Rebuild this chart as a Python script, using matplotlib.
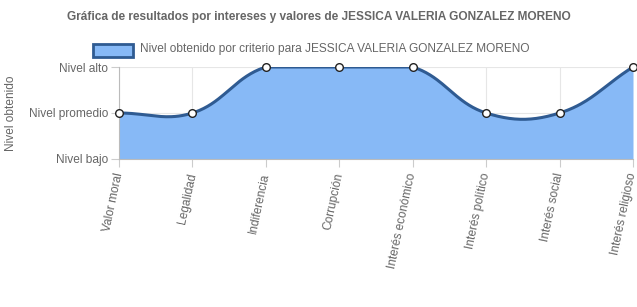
import matplotlib
matplotlib.use("Agg")
import matplotlib.pyplot as plt
import numpy as np

plt.rcParams["font.family"] = ["Liberation Sans", "DejaVu Sans"]

categorias = ["Valor moral", "Legalidad", "Indiferencia", "Corrupción",
              "Interés económico", "Interés político", "Interés social",
              "Interés religioso"]
niveles = [2, 2, 3, 3, 3, 2, 2, 3]
nivel_labels = ["Nivel bajo", "Nivel promedio", "Nivel alto"]
titulo = "Gráfica de resultados por intereses y valores de JESSICA VALERIA GONZALEZ MORENO"
serie = "Nivel obtenido por criterio para JESSICA VALERIA GONZALEZ MORENO"

gris = "#666666"
relleno = "#87b9f6"
borde = "#2f5b92"
fs = 8.6

W, H = 637, 307
fig = plt.figure(figsize=(W / 100, H / 100), dpi=100)
x0, x1, y0, y1 = 119, 633, 67, 159
ax = fig.add_axes([x0 / W, 1 - y1 / H, (x1 - x0) / W, (y1 - y0) / H])

xs = np.arange(len(categorias), dtype=float)
ys = np.array(niveles, dtype=float)

# chart.js style spline (tension 0.4), distances in pixel space
sx = (x1 - x0) / (len(categorias) - 1)
sy = (y1 - y0) / 2.0
px, py = xs * sx, ys * sy
n = len(px)
cp_prev = np.zeros((n, 2))
cp_next = np.zeros((n, 2))
t = 0.4
for i in range(n):
    a = (px[max(i - 1, 0)], py[max(i - 1, 0)])
    b = (px[i], py[i])
    c = (px[min(i + 1, n - 1)], py[min(i + 1, n - 1)])
    d01 = np.hypot(b[0] - a[0], b[1] - a[1])
    d12 = np.hypot(c[0] - b[0], c[1] - b[1])
    tot = d01 + d12
    s01 = d01 / tot if tot else 0
    s12 = d12 / tot if tot else 0
    fa, fb = t * s01, t * s12
    cp_prev[i] = (b[0] - fa * (c[0] - a[0]), b[1] - fa * (c[1] - a[1]))
    cp_next[i] = (b[0] + fb * (c[0] - a[0]), b[1] + fb * (c[1] - a[1]))

cx, cy = [], []
u = np.linspace(0, 1, 40)
for i in range(n - 1):
    P0 = np.array([px[i], py[i]])
    P1 = cp_next[i]
    P2 = cp_prev[i + 1]
    P3 = np.array([px[i + 1], py[i + 1]])
    pts = ((1 - u) ** 3)[:, None] * P0 + (3 * (1 - u) ** 2 * u)[:, None] * P1 \
        + (3 * (1 - u) * u ** 2)[:, None] * P2 + (u ** 3)[:, None] * P3
    cx.extend(pts[:, 0] / sx)
    cy.extend(np.minimum(pts[:, 1] / sy, 3.0))
cx, cy = np.array(cx), np.array(cy)

ax.fill_between(cx, 1, cy, color=relleno, lw=0, zorder=2)
ax.plot(cx, cy, color=borde, lw=2.2, zorder=3, solid_capstyle="round")
ax.plot(xs, ys, "o", ms=5.5, mfc="white", mec="#222222", mew=1, zorder=4,
        clip_on=False)

ax.set_xlim(0, len(categorias) - 1)
ax.set_ylim(1, 3)
ax.set_yticks([1, 2, 3])
ax.set_yticklabels(nivel_labels)
ax.set_xticks(xs)
ax.set_xticklabels(categorias, rotation=78, ha="right", va="center",
                   rotation_mode="anchor")
ax.tick_params(axis="both", colors="#cccccc", labelcolor=gris, labelsize=fs,
               length=6, width=0.8, pad=2)
ax.tick_params(axis="x", pad=4)
ax.grid(True, color="#e6e6e6", lw=0.8, zorder=1)
ax.set_axisbelow(True)
for s in ["top", "right"]:
    ax.spines[s].set_visible(False)
ax.spines["left"].set_color("#bbbbbb")
ax.spines["bottom"].set_color("#bbbbbb")
ax.set_ylabel("Nivel obtenido", color=gris, fontsize=fs)
ax.yaxis.set_label_coords(-102 / (x1 - x0), 0.5)

fig.text(0.5, 1 - 17 / H, titulo, ha="center", va="center", color=gris,
         fontsize=fs, fontweight="bold")
fig.patches.append(plt.Rectangle((93 / W, 1 - 57 / H), 40 / W, 13 / H,
                                 transform=fig.transFigure, facecolor=relleno,
                                 edgecolor=borde, lw=2))
fig.text(140 / W, 1 - 49 / H, serie, ha="left", va="center", color=gris,
         fontsize=fs)

fig.savefig("out.png", dpi=100)
